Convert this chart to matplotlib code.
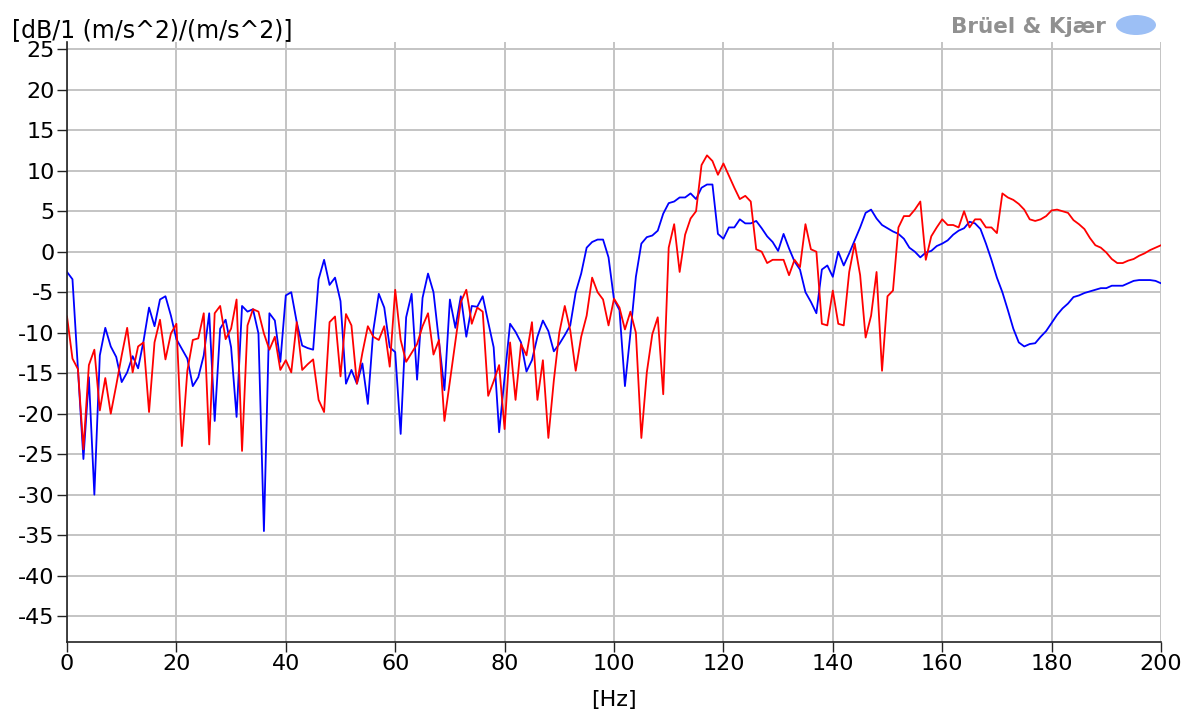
import numpy as np
import matplotlib
matplotlib.use("Agg")
import matplotlib.pyplot as plt
from matplotlib.patches import Ellipse

# frequency axis, 1 Hz steps
freq = np.arange(0, 201)

blue_db = [
    -2.5, -3.4, -14.5, -25.6, -15.5, -30.0, -12.8, -9.4, -11.7, -13.0,
    -16.1, -14.9, -12.9, -14.4, -11.0, -6.9, -9.2, -5.9, -5.5, -7.9,
    -10.8, -12.0, -13.2, -16.6, -15.5, -12.8, -7.6, -20.9, -9.5, -8.4,
    -11.8, -20.4, -6.7, -7.4, -7.1, -10.1, -34.5, -7.6, -8.5, -13.6,
    -5.4, -5.0, -8.7, -11.6, -11.9, -12.1, -3.4, -1.0, -4.1, -3.2,
    -6.1, -16.3, -14.6, -16.3, -13.8, -18.8, -9.7, -5.2, -6.9, -11.8,
    -12.4, -22.5, -8.1, -5.2, -15.8, -5.7, -2.7, -5.0, -11.0, -17.1,
    -5.9, -9.4, -5.5, -10.5, -6.7, -6.8, -5.5, -8.7, -11.8, -22.3,
    -15.5, -8.9, -9.9, -11.2, -14.8, -13.4, -10.5, -8.5, -9.8, -12.3,
    -11.4, -10.3, -9.1, -5.0, -2.7, 0.5, 1.2, 1.5, 1.5, -0.7,
    -5.9, -7.2, -16.6, -10.1, -3.1, 1.0, 1.8, 2.0, 2.6, 4.7,
    6.0, 6.2, 6.7, 6.7, 7.2, 6.5, 7.9, 8.3, 8.3, 2.2,
    1.6, 3.0, 3.0, 4.0, 3.5, 3.5, 3.8, 2.9, 1.9, 1.2,
    0.1, 2.2, 0.4, -1.2, -2.2, -5.0, -6.2, -7.6, -2.2, -1.7,
    -3.1, 0.0, -1.7, -0.2, 1.4, 3.0, 4.8, 5.2, 4.1, 3.3,
    2.9, 2.5, 2.2, 1.6, 0.5, 0.0, -0.7, -0.1, 0.1, 0.7,
    1.0, 1.4, 2.1, 2.6, 2.9, 3.7, 3.5, 2.8, 1.0, -1.0,
    -3.2, -5.0, -7.2, -9.5, -11.2, -11.7, -11.4, -11.3, -10.5, -9.8,
    -8.8, -7.8, -7.0, -6.4, -5.6, -5.4, -5.1, -4.9, -4.7, -4.5,
    -4.5, -4.2, -4.2, -4.2, -3.9, -3.6, -3.5, -3.5, -3.5, -3.6,
    -3.9,
]

red_db = [
    -8.0, -13.2, -14.5, -24.4, -14.0, -12.1, -19.6, -15.6, -20.0, -16.5,
    -12.8, -9.4, -14.9, -11.7, -11.2, -19.8, -11.2, -8.4, -13.3, -10.1,
    -8.9, -24.0, -14.7, -10.9, -10.7, -7.6, -23.8, -7.6, -6.7, -10.8,
    -9.5, -5.9, -24.6, -9.1, -7.1, -7.4, -10.1, -12.1, -10.5, -14.6,
    -13.4, -14.9, -8.7, -14.6, -13.9, -13.3, -18.3, -19.8, -8.7, -8.0,
    -15.4, -7.7, -9.1, -16.3, -12.5, -9.2, -10.5, -10.9, -9.2, -14.2,
    -4.7, -10.9, -13.6, -12.5, -11.4, -9.2, -7.6, -12.7, -10.9, -20.9,
    -16.0, -11.0, -6.2, -4.7, -8.9, -6.9, -7.4, -17.8, -16.0, -14.0,
    -21.9, -11.2, -18.3, -11.4, -12.8, -8.7, -18.3, -13.4, -23.0, -15.9,
    -10.0, -6.7, -9.7, -14.7, -10.5, -7.9, -3.2, -5.0, -5.9, -9.1,
    -5.8, -6.9, -9.6, -7.4, -10.0, -23.0, -14.9, -10.2, -8.1, -17.6,
    0.5, 3.4, -2.5, 2.1, 4.1, 5.0, 10.7, 11.9, 11.2, 9.5,
    10.9, 9.4, 7.9, 6.5, 6.9, 6.2, 0.3, 0.0, -1.4, -1.0,
    -1.0, -1.0, -2.9, -1.0, -1.9, 3.4, 0.3, 0.0, -8.9, -9.1,
    -4.8, -8.9, -9.1, -2.5, 1.0, -2.9, -10.6, -7.9, -2.5, -14.7,
    -5.5, -4.8, 3.0, 4.4, 4.4, 5.2, 6.2, -1.0, 1.9, 3.0,
    4.0, 3.3, 3.3, 3.0, 5.0, 3.0, 4.0, 4.0, 3.0, 3.0,
    2.3, 7.2, 6.7, 6.4, 5.9, 5.2, 4.0, 3.8, 4.0, 4.4,
    5.1, 5.2, 5.0, 4.8, 3.9, 3.4, 2.8, 1.7, 0.8, 0.5,
    -0.1, -0.9, -1.4, -1.4, -1.1, -0.9, -0.5, -0.2, 0.2, 0.5,
    0.8,
]

x_ticks = np.arange(0, 201, 20)
y_ticks = np.arange(-45, 26, 5)

plt.rcParams['font.family'] = ['DejaVu Sans']
plt.rcParams['axes.unicode_minus'] = False

W, H = 1187, 715
fig = plt.figure(figsize=(W / 100, H / 100), dpi=100)
ax = fig.add_axes([67 / W, 1 - 642 / H, (1161 - 67) / W, (642 - 42) / H])

ax.plot(freq, blue_db, color='#0000ff', lw=1.3)
ax.plot(freq, red_db, color='#ff0000', lw=1.3)

ax.set_xlim(0, 200)
ax.set_ylim(-48.2, 25.9)
ax.set_xticks(x_ticks)
ax.set_yticks(y_ticks)
ax.tick_params(labelsize=16, length=7, width=1, color='#222222', pad=2)
ax.grid(True, color='#c4c4c4', lw=1.4)
ax.set_axisbelow(True)
for s in ['top', 'right']:
    ax.spines[s].set_visible(False)
for s in ['left', 'bottom']:
    ax.spines[s].set_color('#222222')
    ax.spines[s].set_linewidth(1.2)

fig.text(12 / W, 1 - 37 / H, '[dB/1 (m/s^2)/(m/s^2)]', fontsize=17,
         ha='left', va='baseline')
fig.text(614 / W, 1 - 706 / H, '[Hz]', fontsize=16, ha='center', va='baseline')

# Brüel & Kjær logo
fig.text(1106 / W, 1 - 33 / H, 'Brüel & Kjær', fontsize=15.5, fontweight='bold',
         color='#909090', ha='right', va='baseline')
fig.patches.append(Ellipse((1136 / W, 1 - 25 / H), 40 / W, 20 / H,
                           transform=fig.transFigure, facecolor='#9cbff5',
                           edgecolor='none'))

fig.savefig('out.png', dpi=100)
